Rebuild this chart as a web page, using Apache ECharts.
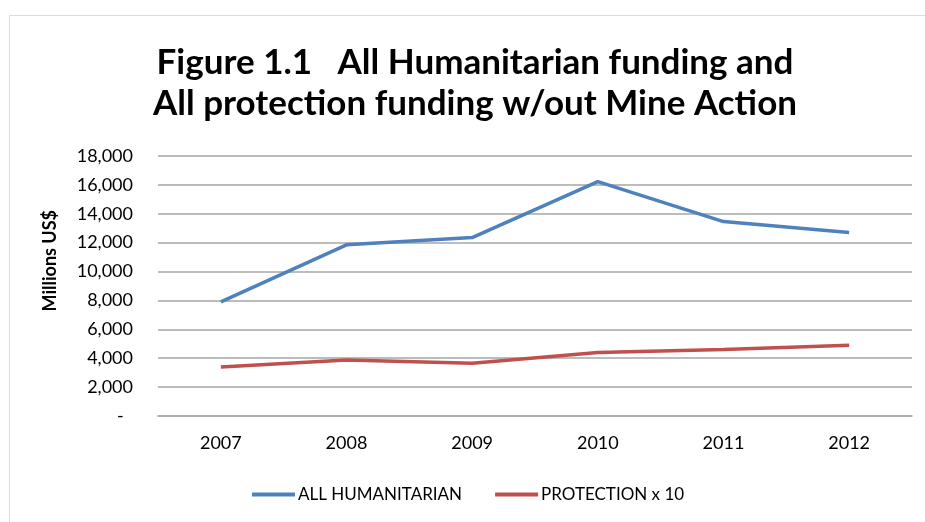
<!DOCTYPE html>
<html>
<head>
<meta charset="utf-8">
<script src="https://cdn.jsdelivr.net/npm/echarts@6/dist/echarts.min.js"></script>
<style>
html,body{margin:0;padding:0;background:#fff;overflow:hidden;}
#frame{position:absolute;left:9px;top:15px;width:1000px;height:600px;border:1px solid #dcdcdc;box-sizing:border-box;}
#chart{position:absolute;left:0;top:0;width:925px;height:522px;}
</style>
</head>
<body>
<div id="frame"></div>
<div id="chart"></div>
<script>
const years = ['2007', '2008', '2009', '2010', '2011', '2012'];
const allHumanitarian = [7900, 11850, 12350, 16230, 13460, 12700];
const protectionX10 = [3400, 3880, 3650, 4400, 4600, 4900];
const seriesNames = ['ALL HUMANITARIAN', 'PROTECTION x 10'];
const titleLines = ['Figure 1.1   All Humanitarian funding and', 'All protection funding w/out Mine Action'];
const yAxisName = 'Millions US$';

const font = 'Lato, "Open Sans", sans-serif';
const chart = echarts.init(document.getElementById('chart'));
chart.setOption({
  animation: false,
  title: {
    text: titleLines.join('\n'),
    left: 470,
    textAlign: 'center',
    top: 37,
    textStyle: { fontFamily: font, fontSize: 35, fontWeight: 'bold', color: '#000', lineHeight: 41 }
  },
  grid: { left: 158, right: 13, top: 156, bottom: 106 },
  legend: {
    top: 481,
    left: 247,
    itemWidth: 43,
    itemHeight: 4,
    itemGap: 33,
    textStyle: { fontFamily: font, fontSize: 17, color: '#000', padding: [0, 0, 0, -2] },
    data: seriesNames.map(n => ({ name: n, icon: 'rect' }))
  },
  graphic: [{
    type: 'text',
    left: 41,
    top: 210,
    rotation: Math.PI / 2,
    style: { text: yAxisName, fontFamily: font, fontSize: 18, fontWeight: 'bold', fill: '#000' }
  }],
  xAxis: {
    type: 'category',
    data: years,
    boundaryGap: true,
    axisLine: { lineStyle: { color: '#a6a6a6', width: 1.5 } },
    axisTick: { show: false },
    axisLabel: { fontFamily: font, fontSize: 18, color: '#000', margin: 18 }
  },
  yAxis: {
    type: 'value',
    min: 0,
    max: 18000,
    interval: 2000,
    axisLine: { show: false },
    axisTick: { show: false },
    splitLine: { lineStyle: { color: '#a6a6a6', width: 1.5 } },
    axisLabel: {
      fontFamily: font, fontSize: 18, color: '#000', margin: 25,
      formatter: v => v === 0 ? '-  ' : v.toLocaleString('en-US')
    }
  },
  series: [
    { name: seriesNames[0], type: 'line', data: allHumanitarian, symbol: 'none', lineStyle: { color: '#4f81bd', width: 3.5 }, itemStyle: { color: '#4f81bd' } },
    { name: seriesNames[1], type: 'line', data: protectionX10, symbol: 'none', lineStyle: { color: '#c0504d', width: 3.5 }, itemStyle: { color: '#c0504d' } }
  ]
});
</script>
</body>
</html>
